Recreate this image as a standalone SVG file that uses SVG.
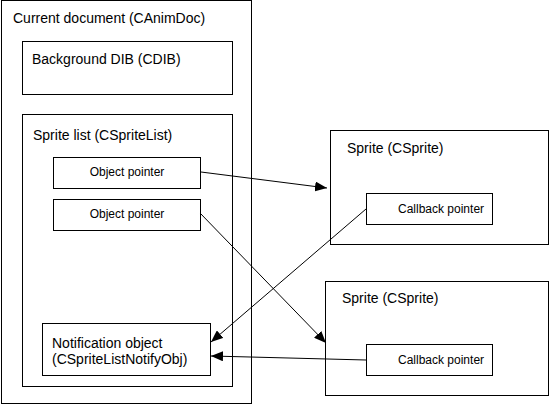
<svg xmlns="http://www.w3.org/2000/svg" width="550" height="406" viewBox="0 0 550 406">
<style>
rect{fill:none;stroke:#000;stroke-width:1}
text{font-family:"Liberation Sans",Arial,sans-serif;fill:#000}
.big{font-size:14px}
.sm{font-size:12px}
.c{stroke:#000;stroke-width:1;fill:none}
</style>
<defs>
<marker id="ah" viewBox="0 0 12 10" refX="12" refY="5" markerWidth="12" markerHeight="10" markerUnits="userSpaceOnUse" orient="auto">
<path d="M0,0 L12,5 L0,10 Z" fill="#000"/>
</marker>
</defs>
<rect x="0" y="0" width="550" height="406" style="fill:#fff;stroke:none"/>
<g id="doc">
<rect x="1.5" y="0.5" width="250" height="403"/>
<text class="big" x="13" y="23">Current document (CAnimDoc)</text>
</g>
<g id="dib">
<rect x="22.5" y="41.5" width="210" height="53"/>
<text class="big" x="32" y="64">Background DIB (CDIB)</text>
</g>
<g id="spritelist">
<rect x="22.5" y="114.5" width="210" height="272"/>
<text class="big" x="33" y="140">Sprite list (CSpriteList)</text>
</g>
<g id="objptr1">
<rect x="53.5" y="157.5" width="147" height="31"/>
<text class="sm" x="127" y="176" text-anchor="middle">Object pointer</text>
</g>
<g id="objptr2">
<rect x="53.5" y="199.5" width="147" height="31"/>
<text class="sm" x="127" y="218" text-anchor="middle">Object pointer</text>
</g>
<g id="notify">
<rect x="42.5" y="323.5" width="168" height="52"/>
<text class="big" x="52" y="348">Notification object</text>
<text class="big" x="52" y="364">(CSpriteListNotifyObj)</text>
</g>
<g id="sprite1">
<rect x="330.5" y="130.5" width="218" height="114"/>
<text class="big" x="347" y="153">Sprite (CSprite)</text>
</g>
<g id="cb1">
<rect x="366.5" y="193.5" width="126" height="31"/>
<text class="sm" x="398" y="213">Callback pointer</text>
</g>
<g id="sprite2">
<rect x="325.5" y="281.5" width="223" height="114"/>
<text class="big" x="342" y="303">Sprite (CSprite)</text>
</g>
<g id="cb2">
<rect x="366.5" y="344.5" width="126" height="31"/>
<text class="sm" x="398" y="364">Callback pointer</text>
</g>
<g id="connectors">
<line class="c" x1="201" y1="172" x2="327" y2="188" marker-end="url(#ah)"/>
<line class="c" x1="200" y1="213" x2="326" y2="343" marker-end="url(#ah)"/>
<line class="c" x1="366" y1="209" x2="211" y2="342" marker-end="url(#ah)"/>
<line class="c" x1="366" y1="360" x2="211" y2="356" marker-end="url(#ah)"/>
</g>
</svg>
